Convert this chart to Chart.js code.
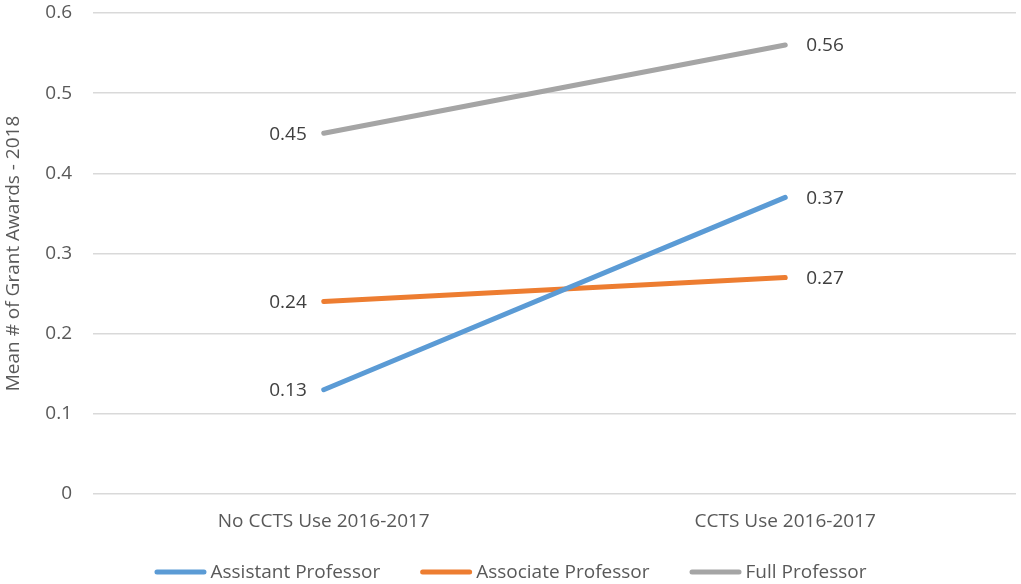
<!DOCTYPE html>
<html>
<head>
<meta charset="utf-8">
<script src="https://cdn.jsdelivr.net/npm/chart.js@4"></script>
<style>
  html, body { margin: 0; padding: 0; background: #fff; }
  #wrap { width: 1021px; height: 584px; }
</style>
</head>
<body>
<div id="wrap"><canvas id="c" width="1021" height="584"></canvas></div>
<script>
const categories = ["No CCTS Use 2016-2017", "CCTS Use 2016-2017"];
const seriesNames = ["Assistant Professor", "Associate Professor", "Full Professor"];
const assistant = [0.13, 0.37];
const associate = [0.24, 0.27];
const full = [0.45, 0.56];
const yTicks = [0, 0.1, 0.2, 0.3, 0.4, 0.5, 0.6];
const yTitle = "Mean # of Grant Awards - 2018";

const colors = ["#5B9BD5", "#ED7D31", "#A5A5A5"];
const FONT = "'Open Sans', 'Noto Sans', sans-serif";

const labelPlugin = {
  id: 'endLabels',
  afterDatasetsDraw(chart) {
    const ctx = chart.ctx;
    ctx.save();
    ctx.font = "19px " + FONT;
    ctx.fillStyle = "#404040";
    ctx.textBaseline = "middle";
    chart.data.datasets.forEach((ds, i) => {
      const meta = chart.getDatasetMeta(i);
      const pts = meta.data;
      const first = pts[0], last = pts[pts.length - 1];
      ctx.textAlign = "right";
      ctx.fillText(ds.data[0].toFixed(2), first.x - 17, first.y + 1);
      ctx.textAlign = "left";
      ctx.fillText(ds.data[ds.data.length - 1].toFixed(2), last.x + 21, last.y + 1);
    });
    ctx.restore();
  }
};

const legendPlugin = {
  id: 'customLegend',
  afterDraw(chart) {
    const ctx = chart.ctx;
    ctx.save();
    ctx.font = "19px " + FONT;
    const lineW = 52, textGap = 4, itemGap = 40;
    const items = chart.data.datasets.map(ds => ({ label: ds.label, color: ds.borderColor, w: ctx.measureText(ds.label).width }));
    let total = items.reduce((s, it) => s + lineW + textGap + it.w, 0) + itemGap * (items.length - 1);
    let x = chart.width / 2 - total / 2;
    const y = 572;
    items.forEach(it => {
      ctx.strokeStyle = it.color;
      ctx.lineWidth = 5;
      ctx.lineCap = 'round';
      ctx.beginPath();
      ctx.moveTo(x + 2.5, y);
      ctx.lineTo(x + lineW - 2.5, y);
      ctx.stroke();
      ctx.fillStyle = "#595959";
      ctx.textAlign = "left";
      ctx.textBaseline = "middle";
      ctx.fillText(it.label, x + lineW + textGap, y + 1);
      x += lineW + textGap + it.w + itemGap;
    });
    ctx.restore();
  }
};

new Chart(document.getElementById('c'), {
  type: 'line',
  data: {
    labels: categories,
    datasets: [assistant, associate, full].map((d, i) => ({
      label: seriesNames[i],
      data: d,
      borderColor: colors[i],
      backgroundColor: colors[i],
      borderWidth: 5,
      borderCapStyle: 'round',
      pointRadius: 0,
      pointHoverRadius: 0,
      tension: 0
    }))
  },
  options: {
    responsive: false,
    animation: false,
    devicePixelRatio: 1,
    layout: { padding: { top: 13, right: 5, left: 0, bottom: 50 } },
    plugins: {
      legend: { display: false },
      tooltip: { enabled: false }
    },
    scales: {
      x: {
        offset: true,
        grid: { display: false, drawTicks: false },
        border: { display: false },
        afterFit(scale) { scale.height = 40; scale.paddingLeft = 0; scale.paddingRight = 0; },
        ticks: { color: "#595959", font: { family: FONT, size: 19 }, padding: 16, maxRotation: 0 }
      },
      y: {
        min: 0,
        max: 0.6,
        afterBuildTicks(scale) { scale.ticks = yTicks.map(v => ({ value: v })); },
        afterFit(scale) { scale.width = 93; scale.paddingTop = 0; scale.paddingBottom = 0; },
        grid: { color: "#D9D9D9", lineWidth: 1.5, drawTicks: false },
        border: { display: false },
        ticks: {
          color: "#595959",
          font: { family: FONT, size: 19 },
          padding: 21,
          callback: v => String(Math.round(v * 10) / 10)
        },
        title: {
          display: true,
          text: yTitle,
          color: "#595959",
          font: { family: FONT, size: 19 },
          padding: { top: 2, bottom: 0 }
        }
      }
    }
  },
  plugins: [labelPlugin, legendPlugin]
});
</script>
</body>
</html>
